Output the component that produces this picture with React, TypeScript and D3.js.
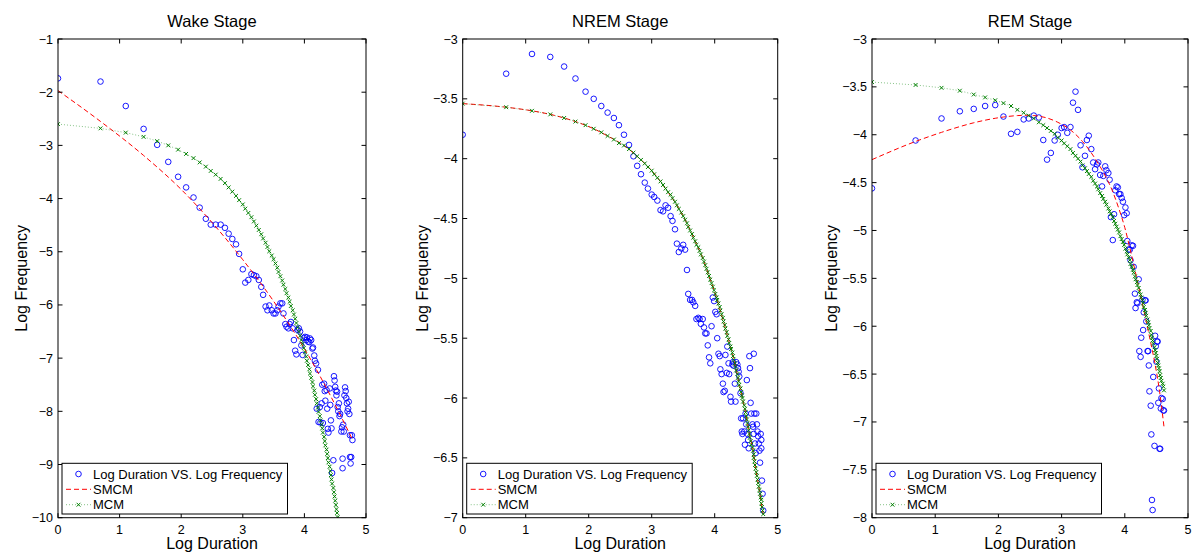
import React from 'react';
import * as d3 from 'd3';

// ---------- data ----------
const logDuration = [
  0, 0.69, 1.10, 1.39, 1.61, 1.79, 1.95, 2.08, 2.20, 2.30,
  2.40, 2.48, 2.56, 2.64, 2.71, 2.77, 2.83, 2.89, 2.94, 3.00,
  3.04, 3.09, 3.14, 3.18, 3.22, 3.26, 3.30, 3.33, 3.37, 3.40,
  3.43, 3.47, 3.50, 3.53, 3.56, 3.58, 3.61, 3.64, 3.66, 3.69,
  3.71, 3.74, 3.76, 3.78, 3.81, 3.83, 3.85, 3.87, 3.89, 3.91,
  3.93, 3.95, 3.97, 3.99, 4.01, 4.03, 4.04, 4.06, 4.08, 4.09,
  4.11, 4.13, 4.14, 4.16, 4.17, 4.19, 4.20, 4.22, 4.23, 4.25,
  4.26, 4.28, 4.29, 4.30, 4.32, 4.33, 4.34, 4.36, 4.37, 4.38,
  4.39, 4.41, 4.42, 4.43, 4.44, 4.45, 4.47, 4.48, 4.49, 4.50,
  4.51, 4.52, 4.53, 4.54, 4.55, 4.56, 4.57, 4.58, 4.60, 4.61,
  4.62, 4.62, 4.63, 4.64, 4.65, 4.66, 4.67, 4.68, 4.69, 4.70,
  4.71, 4.72, 4.73, 4.74, 4.74, 4.75, 4.76, 4.77, 4.78,
];

const wakeObserved = [
  -1.74, -1.80, -2.26, -2.69, -2.99, -3.31, -3.59, -3.79, -3.98, -4.17,
  -4.38, -4.49, -4.49, -4.49, -4.55, -4.66, -4.76, -4.86, -5.04, -5.33,
  -5.58, -5.53, -5.42, -5.44, -5.46, -5.53, -5.66, -5.81, -6.03, -6.10,
  -6.01, -6.10, -6.16, -6.16, -6.10, -6.03, -5.97, -5.97, -6.16, -6.36,
  -6.41, -6.44, -6.36, -6.32, -6.44, -6.66, -6.86, -6.93, -6.47, -6.44,
  -6.50, -6.76, -6.94, -6.62, -6.60, -6.66, -6.61, -6.69, -6.70, -6.63,
  -6.66, -6.82, -6.80, -6.95, -7.05, -7.10, -7.95, -7.22, -8.20, -7.92,
  -8.21, -7.85, -7.50, -8.22, -7.48, -7.62, -7.80, -7.60, -7.95, -8.33,
  -8.40, -7.57, -7.88, -8.17, -8.32, -9.16, -8.92, -7.34, -7.42, -7.54,
  -7.61, -7.70, -7.63, -7.92, -8.00, -7.85, -8.09, -8.05, -8.38, -8.30,
  -9.07, -8.89, -8.25, -8.38, -7.70, -7.55, -7.62, -7.75, -7.85, -8.00,
  -7.95, -7.82, -8.05, -8.45, -8.86, -8.98, -8.86, -8.45, -8.54,
];
const wakeMCM = [
  -2.60, -2.68, -2.76, -2.84, -2.92, -3.00, -3.08, -3.16, -3.24, -3.32,
  -3.40, -3.48, -3.55, -3.63, -3.71, -3.79, -3.87, -3.95, -4.03, -4.11,
  -4.19, -4.27, -4.35, -4.43, -4.51, -4.59, -4.67, -4.75, -4.83, -4.91,
  -4.99, -5.07, -5.14, -5.22, -5.30, -5.38, -5.46, -5.54, -5.62, -5.70,
  -5.78, -5.86, -5.94, -6.02, -6.10, -6.18, -6.26, -6.34, -6.42, -6.50,
  -6.58, -6.66, -6.73, -6.81, -6.89, -6.97, -7.05, -7.13, -7.21, -7.29,
  -7.37, -7.45, -7.53, -7.61, -7.69, -7.77, -7.85, -7.93, -8.01, -8.09,
  -8.17, -8.25, -8.32, -8.40, -8.48, -8.56, -8.64, -8.72, -8.80, -8.88,
  -8.96, -9.04, -9.12, -9.20, -9.28, -9.36, -9.44, -9.52, -9.60, -9.68,
  -9.76, -9.84, -9.91, -9.99, -10.07, -10.15, -10.23,
];
const wakeSMCMx = [0, 0.69, 1.39, 2.01, 2.50, 3.00, 3.50, 4.09, 4.42, 4.78];
const wakeSMCMy = [-1.97, -2.55, -3.19, -3.84, -4.45, -5.15, -5.93, -7.00, -7.70, -8.53];

const nremObserved = [
  -3.80, -3.29, -3.125, -3.15, -3.23, -3.33, -3.44, -3.50, -3.56, -3.615,
  -3.66, -3.72, -3.80, -3.885, -3.98, -4.06, -4.13, -4.20, -4.25, -4.30,
  -4.32, -4.35, -4.43, -4.44, -4.39, -4.41, -4.48, -4.52, -4.59, -4.71,
  -4.78, -4.75, -4.72, -4.76, -4.93, -5.13, -5.18, -5.18, -5.20, -5.23,
  -5.34, -5.33, -5.34, -5.38, -5.34, -5.41, -5.46, -5.46, -5.56, -5.66,
  -5.71, -5.40, -5.16, -5.19, -5.28, -5.30, -5.50, -5.63, -5.65, -5.76,
  -5.80, -5.88, -5.95, -5.94, -5.64, -5.79, -5.57, -5.71, -5.80, -5.99,
  -6.03, -5.72, -5.70, -5.73, -5.88, -6.03, -5.70, -5.72, -5.75, -5.78,
  -5.82, -5.96, -6.17, -6.28, -6.30, -6.17, -6.28, -6.39, -6.13, -6.22,
  -5.85, -6.30, -6.35, -6.42, -5.65, -5.75, -6.04, -6.13, -6.22, -6.24,
  -5.63, -6.30, -6.13, -6.38, -6.46, -6.13, -6.22, -6.28, -6.32, -6.38,
  -6.44, -6.54, -6.30, -6.42, -6.35, -6.69, -6.80, -6.94,
];
const nremMCM = [
  -3.54, -3.57, -3.60, -3.63, -3.66, -3.69, -3.72, -3.75, -3.78, -3.81,
  -3.84, -3.87, -3.89, -3.92, -3.95, -3.98, -4.01, -4.04, -4.07, -4.10,
  -4.13, -4.16, -4.19, -4.22, -4.25, -4.28, -4.30, -4.33, -4.36, -4.39,
  -4.42, -4.45, -4.48, -4.51, -4.54, -4.57, -4.60, -4.63, -4.66, -4.69,
  -4.72, -4.74, -4.77, -4.80, -4.83, -4.86, -4.89, -4.92, -4.95, -4.98,
  -5.01, -5.04, -5.07, -5.10, -5.13, -5.16, -5.18, -5.21, -5.24, -5.27,
  -5.30, -5.33, -5.36, -5.39, -5.42, -5.45, -5.48, -5.51, -5.54, -5.57,
  -5.59, -5.62, -5.65, -5.68, -5.71, -5.74, -5.77, -5.80, -5.83, -5.86,
  -5.89, -5.92, -5.95, -5.98, -6.00, -6.03, -6.06, -6.09, -6.12, -6.15,
  -6.18, -6.21, -6.24, -6.27, -6.30, -6.33, -6.36, -6.39, -6.41, -6.44,
  -6.47, -6.50, -6.53, -6.56, -6.59, -6.62, -6.65, -6.68, -6.71, -6.74,
  -6.77, -6.80, -6.83, -6.85, -6.88, -6.91, -6.94, -6.97,
];
const nremSMCMx = [0, 0.69, 1.10, 1.39, 1.61, 1.79, 2.08, 2.30, 2.56, 2.83, 3.00, 3.22, 3.40, 3.56, 3.69, 3.81, 3.91, 4.01, 4.09, 4.17, 4.25, 4.32, 4.38, 4.44, 4.50, 4.55, 4.61, 4.65, 4.70, 4.74, 4.77];
const nremSMCMy = [-3.54, -3.57, -3.60, -3.63, -3.66, -3.69, -3.75, -3.81, -3.89, -4.01, -4.10, -4.25, -4.39, -4.54, -4.69, -4.83, -4.98, -5.13, -5.27, -5.42, -5.57, -5.71, -5.86, -6.00, -6.15, -6.30, -6.44, -6.59, -6.74, -6.88, -6.97];

const remObserved = [
  -4.56, -4.06, -3.83, -3.755, -3.73, -3.70, -3.69, -3.81, -3.99, -3.97,
  -3.84, -3.83, -3.80, -3.82, -4.055, -4.26, -4.19, -4.06, -4.00, -3.93,
  -3.92, -3.98, -3.92, -3.665, -3.55, -3.74, -4.11, -4.34, -4.22, -4.055,
  -4.01, -4.15, -4.29, -4.36, -4.31, -4.29, -4.42, -4.54, -4.43, -4.33,
  -4.37, -4.40, -4.47, -4.86, -5.10, -4.83, -4.58, -4.54, -4.55, -4.62,
  -4.62, -4.66, -4.70, -4.84, -4.76, -4.82, -5.11, -5.20, -5.20, -5.31,
  -5.155, -5.16, -5.38, -5.66, -5.81, -5.75, -5.76, -5.51, -6.26, -6.32,
  -6.12, -5.72, -6.04, -5.855, -5.73, -5.73, -5.95, -6.26, -6.26, -6.41,
  -6.68, -6.83, -7.13, -7.815, -7.92, -6.53, -7.25, -6.10, -6.21, -6.37,
  -6.16, -6.16, -6.80, -6.65, -7.28, -7.28, -6.86, -6.75, -6.76, -6.88, -6.88,
];
const remMCM = [
  -3.45, -3.48, -3.51, -3.54, -3.58, -3.61, -3.64, -3.67, -3.70, -3.74,
  -3.77, -3.80, -3.83, -3.87, -3.90, -3.93, -3.96, -3.99, -4.03, -4.06,
  -4.09, -4.12, -4.15, -4.19, -4.22, -4.25, -4.28, -4.32, -4.35, -4.38,
  -4.41, -4.44, -4.48, -4.51, -4.54, -4.57, -4.61, -4.64, -4.67, -4.70,
  -4.73, -4.77, -4.80, -4.83, -4.86, -4.90, -4.93, -4.96, -4.99, -5.02,
  -5.06, -5.09, -5.12, -5.15, -5.19, -5.22, -5.25, -5.28, -5.31, -5.35,
  -5.38, -5.41, -5.44, -5.48, -5.51, -5.54, -5.57, -5.60, -5.64, -5.67,
  -5.70, -5.73, -5.76, -5.80, -5.83, -5.86, -5.89, -5.93, -5.96, -5.99,
  -6.02, -6.05, -6.09, -6.12, -6.15, -6.18, -6.22, -6.25, -6.28, -6.31,
  -6.34, -6.38, -6.41, -6.44, -6.47, -6.51, -6.54, -6.57, -6.60, -6.63,
  -6.67,
];
const remSMCMx = [0, 0.69, 1.10, 1.39, 1.61, 1.79, 1.95, 2.08, 2.30, 2.45, 2.56, 2.77, 2.94, 3.14, 3.33, 3.56, 3.70, 3.80, 3.90, 4.00, 4.10, 4.20, 4.30, 4.40, 4.48, 4.55, 4.62];
const remSMCMy = [-4.26, -4.07, -3.975, -3.915, -3.875, -3.848, -3.828, -3.815, -3.80, -3.797, -3.80, -3.825, -3.87, -3.95, -4.07, -4.28, -4.44, -4.58, -4.76, -4.97, -5.24, -5.53, -5.83, -6.14, -6.40, -6.68, -7.05];

const xTicks = [0, 1, 2, 3, 4, 5];
const wakeYTicks = [-1, -2, -3, -4, -5, -6, -7, -8, -9, -10];
const nremYTicks = [-3, -3.5, -4, -4.5, -5, -5.5, -6, -6.5, -7];
const remYTicks = [-3, -3.5, -4, -4.5, -5, -5.5, -6, -6.5, -7, -7.5, -8];
const titles = ['Wake Stage', 'NREM Stage', 'REM Stage'];
const legendLabels = ['Log Duration VS. Log Frequency', 'SMCM', 'MCM'];
const xLabel = 'Log Duration';
const yLabel = 'Log Frequency';

// ---------- styling ----------
const FONT = "'Liberation Sans', Arial, Helvetica, sans-serif";
const BLUE = '#0000ff';
const RED = '#ff0000';
const GREEN = '#008000';

type PanelProps = {
  id: string;
  left: number;
  right: number;
  top: number;
  bottom: number;
  yDomain: [number, number];
  yTicks: number[];
  title: string;
  obs: number[];
  mcm: number[];
  smcmX: number[];
  smcmY: number[];
  yLabelX: number;
};

function XMark({ cx, cy, s, color, w }: { cx: number; cy: number; s: number; color: string; w: number }) {
  return (
    <path
      d={`M${cx - s},${cy - s}L${cx + s},${cy + s}M${cx - s},${cy + s}L${cx + s},${cy - s}`}
      stroke={color}
      strokeWidth={w}
      fill="none"
    />
  );
}

function Panel(p: PanelProps) {
  const x = d3.scaleLinear().domain([0, 5]).range([p.left, p.right]);
  const y = d3.scaleLinear().domain(p.yDomain).range([p.bottom, p.top]);
  const fmt = d3.format('~g');
  const tickLen = 4.5;

  const smcmPath = d3
    .line<number>()
    .x((_, i) => x(p.smcmX[i]))
    .y((d) => y(d))
    .curve(d3.curveMonotoneX)(p.smcmY) || '';
  const mcmPath = d3
    .line<number>()
    .x((_, i) => x(logDuration[i]))
    .y((d) => y(d))(p.mcm) || '';

  const clipId = `clip-${p.id}`;
  const lx = p.left + 4;
  const ly = 463.3;
  const lw = 225.5;
  const lh = 50.7;
  const rows = [474, 489.3, 504.7];

  return (
    <g>
      <defs>
        <clipPath id={clipId}>
          <rect x={p.left} y={p.top} width={p.right - p.left} height={p.bottom - p.top} />
        </clipPath>
      </defs>
      <rect x={p.left} y={p.top} width={p.right - p.left} height={p.bottom - p.top} fill="#fff" />
      <g clipPath={`url(#${clipId})`}>
        {p.obs.map((v, i) => (
          <circle key={`o${i}`} cx={x(logDuration[i])} cy={y(v)} r={2.8} fill="none" stroke={BLUE} strokeWidth={0.9} />
        ))}
        <path d={smcmPath} fill="none" stroke={RED} strokeWidth={1} strokeDasharray="5,3" />
        <path d={mcmPath} fill="none" stroke={GREEN} strokeWidth={0.8} strokeDasharray="1,2" strokeOpacity={0.6} />
        {p.mcm.map((v, i) => (
          <XMark key={`m${i}`} cx={x(logDuration[i])} cy={y(v)} s={1.9} color={GREEN} w={1} />
        ))}
      </g>
      {/* axes box */}
      <rect x={p.left} y={p.top} width={p.right - p.left} height={p.bottom - p.top} fill="none" stroke="#000" strokeWidth={1} />
      {xTicks.map((t) => (
        <g key={`xt${t}`}>
          <line x1={x(t)} x2={x(t)} y1={p.bottom} y2={p.bottom - tickLen} stroke="#000" strokeWidth={1} />
          <line x1={x(t)} x2={x(t)} y1={p.top} y2={p.top + tickLen} stroke="#000" strokeWidth={1} />
          <text x={x(t)} y={533.5} textAnchor="middle" fontSize={12.5} fontFamily={FONT} fill="#000">
            {fmt(t)}
          </text>
        </g>
      ))}
      {p.yTicks.map((t) => (
        <g key={`yt${t}`}>
          <line x1={p.left} x2={p.left + tickLen} y1={y(t)} y2={y(t)} stroke="#000" strokeWidth={1} />
          <line x1={p.right} x2={p.right - tickLen} y1={y(t)} y2={y(t)} stroke="#000" strokeWidth={1} />
          <text x={p.left - 5} y={y(t)} dy="0.36em" textAnchor="end" fontSize={12.5} fontFamily={FONT} fill="#000">
            {fmt(t)}
          </text>
        </g>
      ))}
      <text x={(p.left + p.right) / 2} y={27} textAnchor="middle" fontSize={16.5} fontFamily={FONT} fill="#000">
        {p.title}
      </text>
      <text x={(p.left + p.right) / 2} y={549} textAnchor="middle" fontSize={16} fontFamily={FONT} fill="#000">
        {xLabel}
      </text>
      <text
        transform={`translate(${p.yLabelX},${(p.top + p.bottom) / 2}) rotate(-90)`}
        textAnchor="middle"
        fontSize={16}
        fontFamily={FONT}
        fill="#000"
      >
        {yLabel}
      </text>
      {/* legend */}
      <rect x={lx} y={ly} width={lw} height={lh} fill="#fff" stroke="#000" strokeWidth={1} />
      <circle cx={lx + 16.5} cy={rows[0]} r={2.8} fill="none" stroke={BLUE} strokeWidth={0.9} />
      <line x1={lx + 4} x2={lx + 29} y1={rows[1]} y2={rows[1]} stroke={RED} strokeWidth={1} strokeDasharray="5,3" />
      <line x1={lx + 4} x2={lx + 29} y1={rows[2]} y2={rows[2]} stroke={GREEN} strokeWidth={0.8} strokeDasharray="1,2" strokeOpacity={0.6} />
      <XMark cx={lx + 16.5} cy={rows[2]} s={1.9} color={GREEN} w={1} />
      {legendLabels.map((lab, i) => (
        <text key={lab} x={lx + 31} y={rows[i]} dy="0.36em" fontSize={13} fontFamily={FONT} fill="#000">
          {lab}
        </text>
      ))}
    </g>
  );
}

export default function App() {
  return (
    <svg
      width={1192}
      height={557}
      viewBox="0 0 1192 557"
      style={{ position: 'absolute', left: 0, top: 0, background: '#fff' }}
    >
      <rect x={0} y={0} width={1192} height={557} fill="#fff" />
      <Panel
        id="wake"
        left={58}
        right={366}
        top={39}
        bottom={517.7}
        yDomain={[-10, -1]}
        yTicks={wakeYTicks}
        title={titles[0]}
        obs={wakeObserved}
        mcm={wakeMCM}
        smcmX={wakeSMCMx}
        smcmY={wakeSMCMy}
        yLabelX={26.5}
      />
      <Panel
        id="nrem"
        left={462.7}
        right={777.7}
        top={39}
        bottom={517.7}
        yDomain={[-7, -3]}
        yTicks={nremYTicks}
        title={titles[1]}
        obs={nremObserved}
        mcm={nremMCM}
        smcmX={nremSMCMx}
        smcmY={nremSMCMy}
        yLabelX={428}
      />
      <Panel
        id="rem"
        left={872}
        right={1188}
        top={39}
        bottom={517.7}
        yDomain={[-8, -3]}
        yTicks={remYTicks}
        title={titles[2]}
        obs={remObserved}
        mcm={remMCM}
        smcmX={remSMCMx}
        smcmY={remSMCMy}
        yLabelX={837}
      />
    </svg>
  );
}
